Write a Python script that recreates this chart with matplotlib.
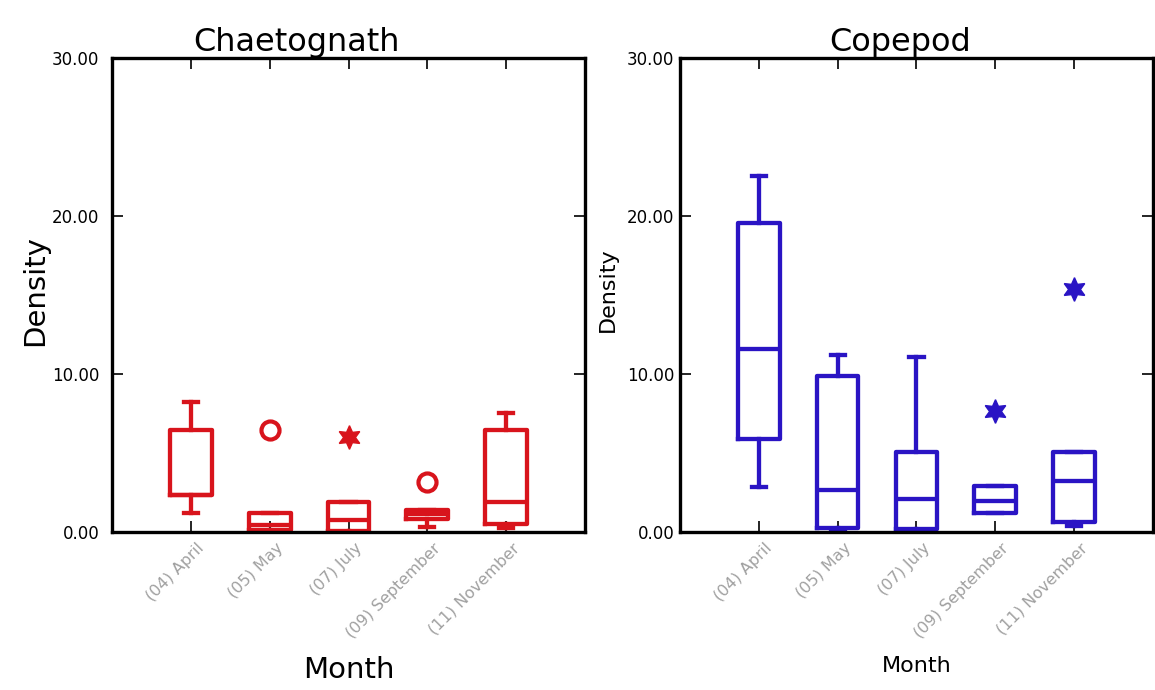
import matplotlib
matplotlib.use("Agg")
import matplotlib.pyplot as plt
import matplotlib.transforms as mtransforms

# months sampled
meses = ["(04) April", "(05) May", "(07) July", "(09) September", "(11) November"]

# Chaetognath density per month: box statistics
chae_whislo = [1.18, 0.00, 0.00, 0.30, 0.24]
chae_q1 = [2.30, 0.10, 0.05, 0.80, 0.49]
chae_med = [2.30, 0.45, 0.75, 1.12, 1.90]
chae_q3 = [6.44, 1.20, 1.88, 1.37, 6.44]
chae_whishi = [8.20, 1.20, 1.88, 1.37, 7.50]
# outliers (circles) and extremes (stars): (month index, value)
chae_out = [(1, 6.44), (3, 3.16)]
chae_ext = [(2, 6.00)]

# Copepod density per month
cope_whislo = [2.85, 0.10, 0.00, 1.20, 0.38]
cope_q1 = [5.85, 0.25, 0.15, 1.20, 0.63]
cope_med = [11.60, 2.64, 2.05, 1.96, 3.23]
cope_q3 = [19.56, 9.85, 5.06, 2.89, 5.06]
cope_whishi = [22.50, 11.18, 11.04, 2.89, 5.06]
cope_out = []
cope_ext = [(3, 7.66), (4, 15.40)]

ROJO = "#d8141c"
AZUL = "#2a14c4"
GRIS = "#a0a0a0"


def armarStats(whislo, q1, med, q3, whishi):
    stats = []
    for i in range(len(med)):
        stats.append({"whislo": whislo[i], "q1": q1[i], "med": med[i],
                      "q3": q3[i], "whishi": whishi[i], "fliers": []})
    return stats


def dibujarPanel(ax, stats, outl, extr, color, titulo, titX, labSize, tickPad):
    pos = list(range(1, len(stats) + 1))
    lw = 3.1
    ax.bxp(stats, positions=pos, widths=0.53, capwidths=0.18, showfliers=False,
           boxprops=dict(color=color, linewidth=lw),
           whiskerprops=dict(color=color, linewidth=lw),
           capprops=dict(color=color, linewidth=lw),
           medianprops=dict(color=color, linewidth=lw))

    for idx, val in outl:
        ax.plot(pos[idx], val, marker="o", markersize=13, markerfacecolor="white",
                markeredgecolor=color, markeredgewidth=3, linestyle="none")
    for idx, val in extr:
        ax.plot(pos[idx], val, marker=(6, 1, 0), markersize=17, color=color,
                linestyle="none")

    ax.set_xlim(0, 6)
    ax.set_ylim(0, 30)
    ax.set_yticks([0, 10, 20, 30])
    ax.set_yticklabels(["0.00", "10.00", "20.00", "30.00"])
    ax.set_xticks(pos)
    ax.set_xticklabels(meses)

    for s in ax.spines.values():
        s.set_linewidth(2.4)
    ax.tick_params(axis="both", direction="in", length=8, width=1.2,
                   top=True, right=True)
    ax.tick_params(axis="y", labelsize=12, pad=tickPad)
    ax.tick_params(axis="x", labelsize=11.5, labelcolor=GRIS, pad=10)

    offset = mtransforms.ScaledTranslation(8 / 72, 0, ax.figure.dpi_scale_trans)
    for lab in ax.get_xticklabels():
        lab.set_rotation(45)
        lab.set_ha("right")
        lab.set_va("center")
        lab.set_rotation_mode("anchor")
        lab.set_transform(lab.get_transform() + offset)

    ax.set_title(titulo, fontsize=23, x=titX, pad=5)
    ax.set_ylabel("Density", fontsize=labSize)
    ax.set_xlabel("Month", fontsize=labSize)
    ax.yaxis.set_label_coords(-0.132, 0.51)
    ax.xaxis.set_label_coords(0.5, -0.262)


fig = plt.figure(figsize=(11.55, 6.9), dpi=100)
ax1 = fig.add_axes([0.097, 0.2294, 0.4095, 0.6865])
ax2 = fig.add_axes([0.5887, 0.2294, 0.4095, 0.6865])

dibujarPanel(ax1, armarStats(chae_whislo, chae_q1, chae_med, chae_q3, chae_whishi),
             chae_out, chae_ext, ROJO, "Chaetognath", 0.39, 21, 9)
dibujarPanel(ax2, armarStats(cope_whislo, cope_q1, cope_med, cope_q3, cope_whishi),
             cope_out, cope_ext, AZUL, "Copepod", 0.465, 16, 4)

fig.savefig("out.png", dpi=100)
